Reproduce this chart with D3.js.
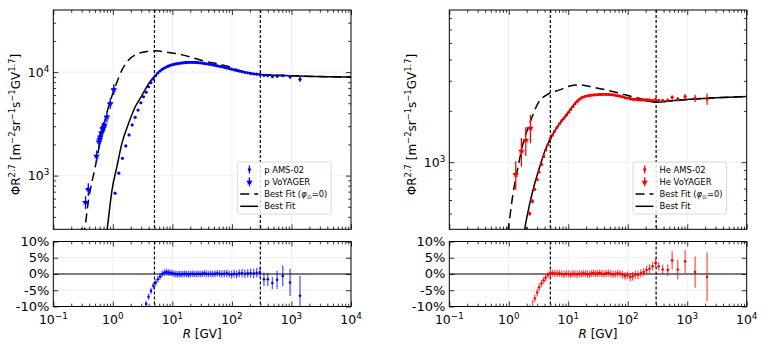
<!DOCTYPE html>
<html><head><meta charset="utf-8">
<script src="https://cdn.jsdelivr.net/npm/d3@7"></script>
<style>
body{margin:0;background:#fff;}
svg{display:block;font-family:"DejaVu Sans",sans-serif;}
</style></head><body>
<svg id="c" width="765" height="346"></svg>
<script>
// ---------- shared axis data ----------
const xMajor = [0.1, 1, 10, 100, 1000, 10000];
const xMajorExp = ["−1", "0", "1", "2", "3", "4"];
const vLines = [5, 300];
const resTicks = [-10, -5, 0, 5, 10];
const resLabels = ["-10%", "-5%", "0%", "5%", "10%"];

// ---------- proton panel ----------
const pYDomain = [303, 39800];
const pYMajor = [1000, 10000];
const pYMajorExp = ["3", "4"];
const pFitR = [0.78, 0.80, 0.97, 1.17, 1.42, 1.84, 2.38, 3.0, 3.5, 4.0, 4.5, 5.0, 5.71, 6.74, 7.89, 9.17, 11.4, 15.0, 20.0, 25.1, 31.7, 40.4, 56.8, 81.6, 109, 148, 206, 297, 734, 1395, 10000];
const pFitV = [270, 300, 730, 1220, 2050, 3200, 4630, 5800, 6800, 7750, 8500, 9100, 9900, 10650, 11140, 11580, 11990, 12300, 12440, 12390, 12210, 11950, 11510, 10970, 10530, 10100, 9720, 9480, 9290, 9150, 8950];
const pLisR = [0.32, 0.335, 0.391, 0.507, 0.656, 0.847, 1.097, 1.42, 1.84, 2.70, 3.8, 5.15, 8.0, 15.3, 33.3, 82, 156, 297, 734, 1395, 10000];
const pLisV = [260, 299, 583, 1222, 2565, 4630, 7210, 10450, 13060, 15140, 15850, 16040, 15600, 14590, 12850, 11430, 10090, 9485, 9295, 9155, 8955];
const pAmsR = [1.09, 1.26, 1.45, 1.65, 1.87, 2.11, 2.37, 2.65, 2.95, 3.27, 3.62, 3.98, 4.37, 4.79, 5.24, 5.71, 6.21, 6.74, 7.30, 7.89, 8.51, 9.17, 9.86, 10.6, 11.4, 12.2, 13.1, 14.0, 15.0, 16.1, 17.3, 18.6, 20.0, 21.6, 23.3, 25.1, 27.1, 29.3, 31.7, 34.3, 37.2, 40.4, 43.9, 47.8, 52.1, 56.8, 62.1, 67.9, 74.4, 81.6, 89.7, 98.7, 109, 120, 133, 148, 165, 184, 206, 232, 261, 295, 345, 400, 478, 573, 714, 948, 1390];
const pAmsF = [677, 1055, 1470, 1935, 2470, 3090, 3660, 4300, 5060, 5780, 6400, 7220, 7890, 8560, 9250, 9800, 10250, 10650, 10950, 11200, 11420, 11620, 11780, 11900, 12000, 12100, 12180, 12250, 12300, 12350, 12390, 12420, 12440, 12440, 12420, 12390, 12340, 12280, 12210, 12130, 12040, 11950, 11850, 11740, 11630, 11510, 11380, 11250, 11110, 10970, 10830, 10680, 10530, 10390, 10240, 10100, 9960, 9830, 9720, 9620, 9550, 9500, 9300, 9250, 9050, 9130, 9240, 9000, 8540];
const pAmsRes = [-40, -33, -28, -25, -22, -19, -17, -15, -13, -12, -9.2, -7, -5.2, -3.6, -2.6, -1.6, -0.8, 0, 0.4, 0.6, 0.5, 0.4, 0.3, 0.1, 0, -0.1, 0, -0.1, 0, 0.1, 0, -0.1, 0, 0.1, 0, 0, 0.1, 0, 0.1, 0.2, 0.1, 0, 0.1, 0, 0.1, 0.2, 0.1, 0, 0.1, 0.2, 0, -0.2, 0.1, -0.1, 0.2, 0.3, 0.1, 0.2, 0.3, 0.2, 0.4, 0.5, -1.6, -1.6, -2.8, -1.8, -0.6, -2.6, -6.7];
const pAmsErr = [1, 1, 1, 1, 1, 1, 1, 1, 1, 1, 1, 1, 1, 1, 1, 1, 1, 1, 1, 1, 1, 1, 1, 1, 1, 1, 1, 1, 1, 1, 1, 1, 1, 1, 1, 1, 1, 1, 1, 1, 1, 1, 1, 1, 1, 1, 1.1, 1.1, 1.1, 1.1, 1.1, 1.2, 1.2, 1.2, 1.2, 1.3, 1.3, 1.3, 1.4, 1.4, 1.5, 1.5, 2.1, 2.0, 1.9, 2.8, 3.2, 4.2, 6.1];
const pVoyR = [0.30, 0.348, 0.387, 0.533, 0.585, 0.60, 0.615, 0.645, 0.672, 0.70, 0.726, 0.796, 0.904, 1.04];
const pVoyF = [255, 554, 740, 1549, 2130, 2250, 2380, 2600, 2860, 2950, 3090, 3710, 4990, 6810];
const pVoyErr = [22, 14, 14, 13, 13, 13, 13, 13, 12, 12, 12, 12, 12, 12];

// ---------- helium panel ----------
const hYDomain = [404, 7800];
const hYMajor = [1000];
const hYMajorExp = ["3"];
const hFitR = [1.80, 1.85, 2.25, 2.73, 3.31, 4.01, 4.87, 6.31, 9.3, 12.8, 15.5, 20.0, 27.8, 40.7, 88, 168, 300, 610, 2200, 10000];
const hFitV = [380, 404, 571, 749, 938, 1150, 1347, 1578, 1890, 2200, 2360, 2440, 2477, 2500, 2400, 2316, 2250, 2300, 2370, 2425];
const hLisR = [0.95, 0.97, 1.18, 1.43, 1.74, 2.25, 3.1, 4.87, 7.2, 10.6, 15.5, 26, 49.4, 94, 179, 300, 610, 2200, 10000];
const hLisV = [390, 404, 655, 938, 1288, 1690, 2213, 2535, 2654, 2798, 2840, 2750, 2623, 2477, 2337, 2255, 2302, 2372, 2427];
const hAmsR = [1.98, 2.25, 2.50, 2.73, 3.0, 3.23, 3.54, 3.86, 4.17, 4.57, 4.99, 5.4, 5.9, 6.47, 7.09, 7.76, 8.48, 9.26, 10.1, 11.0, 12.0, 13.0, 14.1, 15.3, 16.6, 18.0, 19.5, 21.1, 22.8, 24.7, 26.7, 28.9, 31.3, 33.9, 36.8, 40.0, 43.5, 47.4, 51.7, 56.4, 61.8, 67.7, 74.3, 81.7, 90.0, 99.2, 110, 121, 134, 149, 166, 185, 207, 232, 261, 293, 331, 386, 471, 558, 693, 922, 1357, 2157];
const hAmsF = [405, 500, 590, 693, 790, 875, 970, 1080, 1180, 1270, 1375, 1440, 1520, 1600, 1680, 1750, 1815, 1885, 1960, 2040, 2120, 2200, 2270, 2330, 2380, 2410, 2435, 2450, 2465, 2475, 2480, 2485, 2490, 2495, 2498, 2500, 2498, 2495, 2490, 2482, 2470, 2455, 2440, 2420, 2385, 2375, 2350, 2335, 2330, 2320, 2318, 2320, 2330, 2320, 2300, 2330, 2300, 2300, 2310, 2400, 2340, 2420, 2370, 2350];
const hAmsRes = [-14, -12.5, -11, -7.5, -5.7, -4.1, -2.9, -1.9, -1.1, -0.3, 0.2, 0.3, 0.2, 0.1, 0.2, 0, -0.1, 0.1, 0, -0.2, 0.1, 0, -0.1, 0.1, 0, 0.2, 0.1, 0, -0.1, 0.2, 0.3, 0.1, 0.2, 0.3, 0.1, 0, 0.2, 0.3, 0.1, -0.1, 0, 0.2, 0.1, -0.2, -0.6, -0.4, -0.9, -0.7, -0.2, -0.3, 0.2, 0.6, 1.2, 1.6, 2.4, 3.4, 2.4, 1.4, 1.2, 4.2, 1.4, 3.9, 0.6, -0.9];
const hAmsErr = [3, 3, 3, 1.2, 1.2, 1.2, 1.1, 1.1, 1.1, 1.1, 1.1, 1.1, 1.1, 1.1, 1.1, 1.1, 1.1, 1.1, 1.1, 1.1, 1.1, 1.1, 1.1, 1.1, 1.1, 1.1, 1.1, 1.1, 1.1, 1.1, 1.1, 1.1, 1.1, 1.1, 1.1, 1.1, 1.1, 1.1, 1.1, 1.1, 1.1, 1.1, 1.1, 1.2, 1.2, 1.2, 1.3, 1.3, 1.3, 1.3, 1.3, 1.3, 1.4, 1.4, 1.4, 1.4, 1.3, 1.5, 1.8, 2.8, 3.0, 3.6, 4.8, 7.5];
const hVoyR = [1.31, 1.63, 1.93, 2.31];
const hVoyF = [850, 1165, 1347, 1591];
const hVoyErr = [19, 19, 19, 19];

// ---------- drawing ----------
const svg = d3.select("#c");
const TOP = [10, 229.3], BOT = [241.5, 306.5];

function minorsLog(domain) {
  const out = [];
  for (let e = -2; e <= 5; e++) for (let m = 2; m <= 9; m++) {
    const v = m * Math.pow(10, e);
    if (v > domain[0] && v < domain[1]) out.push(v);
  }
  return out;
}

function supText(g, x, y, base, exp, anchor, size) {
  const t = g.append("text").attr("x", x).attr("y", y).attr("text-anchor", anchor)
    .attr("font-size", size).attr("fill", "#000");
  t.append("tspan").text(base);
  t.append("tspan").attr("font-size", size * 0.7).attr("dy", -size * 0.4).text(exp);
  return t;
}

function ticks(g, axisFn, scale, vals, len, transform) {
  g.append("g").attr("transform", transform)
    .call(axisFn(scale).tickValues(vals).tickSizeInner(-len).tickSizeOuter(0).tickFormat(""))
    .call(s => { s.select(".domain").remove(); s.selectAll("line").attr("stroke", "#000").attr("stroke-width", 0.8); });
}

function drawPanel(o) {
  const x = d3.scaleLog().domain([0.1, 1e4]).range([o.x0, o.x1]);
  const y = d3.scaleLog().domain(o.yDomain).range([TOP[1], TOP[0]]);
  const yr = d3.scaleLinear().domain([-10, 10]).range([BOT[1], BOT[0]]);
  const g = svg.append("g");
  const id = o.id;
  const defs = svg.append("defs");
  defs.append("clipPath").attr("id", id + "t").append("rect")
    .attr("x", o.x0).attr("y", TOP[0]).attr("width", o.x1 - o.x0).attr("height", TOP[1] - TOP[0]);
  defs.append("clipPath").attr("id", id + "b").append("rect")
    .attr("x", o.x0).attr("y", BOT[0]).attr("width", o.x1 - o.x0).attr("height", BOT[1] - BOT[0]);

  const gt = g.append("g").attr("clip-path", `url(#${id}t)`);
  const gb = g.append("g").attr("clip-path", `url(#${id}b)`);
  const grid = "#ebebeb";
  xMajor.forEach(v => {
    gt.append("line").attr("x1", x(v)).attr("x2", x(v)).attr("y1", TOP[0]).attr("y2", TOP[1]).attr("stroke", grid).attr("stroke-width", 0.8);
    gb.append("line").attr("x1", x(v)).attr("x2", x(v)).attr("y1", BOT[0]).attr("y2", BOT[1]).attr("stroke", grid).attr("stroke-width", 0.8);
  });
  o.yMajor.forEach(v => gt.append("line").attr("x1", o.x0).attr("x2", o.x1).attr("y1", y(v)).attr("y2", y(v)).attr("stroke", grid).attr("stroke-width", 0.8));
  resTicks.forEach(v => gb.append("line").attr("x1", o.x0).attr("x2", o.x1).attr("y1", yr(v)).attr("y2", yr(v)).attr("stroke", grid).attr("stroke-width", 0.8));

  const line = d3.line().x(d => x(d[0])).y(d => y(d[1])).curve(d3.curveMonotoneX);
  gt.append("path").attr("d", line(o.lisR.map((r, i) => [r, o.lisV[i]])))
    .attr("fill", "none").attr("stroke", "#000").attr("stroke-width", 1.5).attr("stroke-dasharray", "9,5");
  gt.append("path").attr("d", line(o.fitR.map((r, i) => [r, o.fitV[i]])))
    .attr("fill", "none").attr("stroke", "#000").attr("stroke-width", 1.5);

  gb.append("line").attr("x1", o.x0).attr("x2", o.x1).attr("y1", yr(0)).attr("y2", yr(0)).attr("stroke", "#000").attr("stroke-width", 1.1);

  vLines.forEach(v => {
    [[gt, TOP], [gb, BOT]].forEach(([gg, yy]) => gg.append("line").attr("x1", x(v)).attr("x2", x(v))
      .attr("y1", yy[0]).attr("y2", yy[1]).attr("stroke", "#000").attr("stroke-width", 1.2).attr("stroke-dasharray", "3,2"));
  });

  const col = o.color;
  o.amsR.forEach((r, i) => {
    const f = o.amsF[i], e = f * o.amsErr[i] / 100;
    gt.append("line").attr("x1", x(r)).attr("x2", x(r)).attr("y1", y(f - e)).attr("y2", y(f + e)).attr("stroke", col).attr("stroke-width", 1.2);
    gt.append("circle").attr("cx", x(r)).attr("cy", y(f)).attr("r", 1.6).attr("fill", col);
  });
  const star = d3.symbol().type(d3.symbolStar).size(15);
  o.voyR.forEach((r, i) => {
    const f = o.voyF[i], e = f * o.voyErr[i] / 100;
    gt.append("line").attr("x1", x(r)).attr("x2", x(r)).attr("y1", y(f - e)).attr("y2", y(f + e)).attr("stroke", col).attr("stroke-width", 1.3);
    gt.append("line").attr("x1", x(r * 0.9)).attr("x2", x(r * 1.1)).attr("y1", y(f)).attr("y2", y(f)).attr("stroke", col).attr("stroke-width", 1.3);
    gt.append("path").attr("d", star).attr("transform", `translate(${x(r)},${y(f)})`).attr("fill", col);
  });
  o.amsR.forEach((r, i) => {
    const v = o.amsRes[i], e = o.amsErr[i];
    gb.append("line").attr("x1", x(r)).attr("x2", x(r)).attr("y1", yr(v - e)).attr("y2", yr(v + e)).attr("stroke", col).attr("stroke-width", 1.3).attr("opacity", 0.65);
    gb.append("circle").attr("cx", x(r)).attr("cy", yr(v)).attr("r", 1.3).attr("fill", col);
  });

  [TOP, BOT].forEach(yy => g.append("rect").attr("x", o.x0).attr("y", yy[0]).attr("width", o.x1 - o.x0).attr("height", yy[1] - yy[0])
    .attr("fill", "none").attr("stroke", "#000").attr("stroke-width", 1));

  const xMin = minorsLog([0.1, 1e4]);
  [TOP, BOT].forEach(yy => {
    ticks(g, d3.axisBottom, x, xMajor, 5, `translate(0,${yy[1]})`);
    ticks(g, d3.axisBottom, x, xMin, 2.8, `translate(0,${yy[1]})`);
    ticks(g, d3.axisTop, x, xMajor, 5, `translate(0,${yy[0]})`);
    ticks(g, d3.axisTop, x, xMin, 2.8, `translate(0,${yy[0]})`);
  });
  const yMin = minorsLog(o.yDomain);
  ticks(g, d3.axisLeft, y, o.yMajor, 5, `translate(${o.x0},0)`);
  ticks(g, d3.axisLeft, y, yMin, 2.8, `translate(${o.x0},0)`);
  ticks(g, d3.axisRight, y, o.yMajor, 5, `translate(${o.x1},0)`);
  ticks(g, d3.axisRight, y, yMin, 2.8, `translate(${o.x1},0)`);
  ticks(g, d3.axisLeft, yr, resTicks, 5, `translate(${o.x0},0)`);
  ticks(g, d3.axisRight, yr, resTicks, 5, `translate(${o.x1},0)`);

  xMajor.forEach((v, i) => supText(g, x(v), 324, "10", xMajorExp[i], "middle", 12.5));
  o.yMajor.forEach((v, i) => supText(g, o.x0 - 4, y(v) + 4.8, "10", o.yMajorExp[i], "end", 12.5));
  resTicks.forEach((v, i) => g.append("text").attr("x", o.x0 - 4).attr("y", yr(v) + 4.4).attr("text-anchor", "end")
    .attr("font-size", 13).text(resLabels[i]));

  const xt = g.append("text").attr("x", (o.x0 + o.x1) / 2).attr("y", 338).attr("text-anchor", "middle").attr("font-size", 12);
  xt.append("tspan").attr("font-style", "italic").text("R");
  xt.append("tspan").text(" [GV]");

  const yt = g.append("text").attr("transform", `translate(${o.x0 - 33},124.5) rotate(-90)`).attr("text-anchor", "middle").attr("font-size", 12);
  const sz = 12, ss = 8.4, up = -5;
  const parts = [["ΦR", 0], ["2.7", 1], [" [m", 0], ["−2", 1], ["sr", 0], ["−1", 1], ["s", 0], ["−1", 1], ["GV", 0], ["1.7", 1], ["]", 0]];
  let prev = 0;
  parts.forEach(([t, s]) => {
    const cur = s ? up : 0;
    yt.append("tspan").attr("dy", cur - prev).attr("font-size", s ? ss : sz).text(t);
    prev = cur;
  });

  const lx = o.legX, ly = 162;
  const lg = g.append("g");
  lg.append("rect").attr("x", lx).attr("y", ly).attr("width", 93.5).attr("height", 52).attr("rx", 2)
    .attr("fill", "#fff").attr("fill-opacity", 0.85).attr("stroke", "#d0d0d0").attr("stroke-width", 0.8);
  const rows = [169.5, 181.8, 194, 206.3];
  const hx = lx + 2.5, mx = hx + 9.2, tx = lx + 26.5;
  lg.append("line").attr("x1", mx).attr("x2", mx).attr("y1", rows[0] - 4).attr("y2", rows[0] + 4).attr("stroke", col).attr("stroke-width", 1.2);
  lg.append("circle").attr("cx", mx).attr("cy", rows[0]).attr("r", 1.6).attr("fill", col);
  lg.append("line").attr("x1", mx).attr("x2", mx).attr("y1", rows[1] - 4.5).attr("y2", rows[1] + 4.5).attr("stroke", col).attr("stroke-width", 1.3);
  lg.append("line").attr("x1", mx - 2.5).attr("x2", mx + 2.5).attr("y1", rows[1]).attr("y2", rows[1]).attr("stroke", col).attr("stroke-width", 1.3);
  lg.append("path").attr("d", star).attr("transform", `translate(${mx},${rows[1]})`).attr("fill", col);
  lg.append("line").attr("x1", hx).attr("x2", hx + 18).attr("y1", rows[2]).attr("y2", rows[2]).attr("stroke", "#000").attr("stroke-width", 1.5).attr("stroke-dasharray", "9,5");
  lg.append("line").attr("x1", hx).attr("x2", hx + 18).attr("y1", rows[3]).attr("y2", rows[3]).attr("stroke", "#000").attr("stroke-width", 1.5);
  const lf = 8.4;
  o.legLabels.forEach((t, i) => {
    const te = lg.append("text").attr("x", tx).attr("y", rows[i] + 3).attr("font-size", lf);
    if (i === 2) {
      te.append("tspan").text("Best Fit (");
      te.append("tspan").attr("font-style", "italic").text("φ");
      te.append("tspan").attr("font-size", lf * 0.7).attr("dy", 1.8).text("⊙");
      te.append("tspan").attr("dy", -1.8).text("=0)");
    } else te.text(t);
  });
}

drawPanel({ id: "p", x0: 53.3, x1: 351, yDomain: pYDomain, yMajor: pYMajor, yMajorExp: pYMajorExp, color: "#0000ff",
  fitR: pFitR, fitV: pFitV, lisR: pLisR, lisV: pLisV, amsR: pAmsR, amsF: pAmsF, amsRes: pAmsRes, amsErr: pAmsErr,
  voyR: pVoyR, voyF: pVoyF, voyErr: pVoyErr, legX: 237.7, legLabels: ["p AMS-02", "p VoYAGER", "", "Best Fit"] });
drawPanel({ id: "h", x0: 449.3, x1: 746.7, yDomain: hYDomain, yMajor: hYMajor, yMajorExp: hYMajorExp, color: "#ff0000",
  fitR: hFitR, fitV: hFitV, lisR: hLisR, lisV: hLisV, amsR: hAmsR, amsF: hAmsF, amsRes: hAmsRes, amsErr: hAmsErr,
  voyR: hVoyR, voyF: hVoyF, voyErr: hVoyErr, legX: 633, legLabels: ["He AMS-02", "He VoYAGER", "", "Best Fit"] });
</script>
</body></html>
